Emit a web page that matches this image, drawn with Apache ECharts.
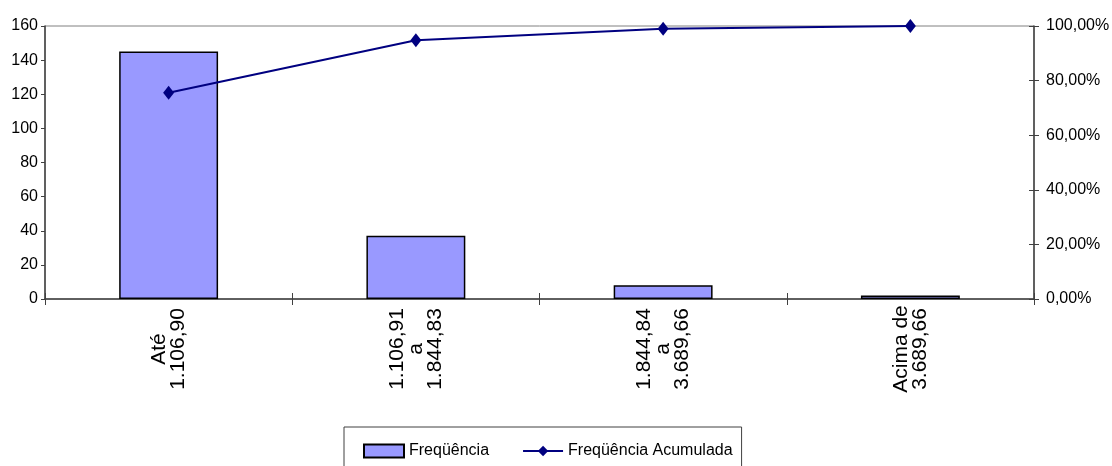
<!DOCTYPE html>
<html>
<head>
<meta charset="utf-8">
<script src="https://cdn.jsdelivr.net/npm/echarts@6/dist/echarts.min.js"></script>
<style>
html,body{margin:0;padding:0;background:#fff;}
#chart{width:1112px;height:466px;}
</style>
</head>
<body>
<div id="chart"></div>
<script>
const categories = ["Até\n1.106,90", "1.106,91\na\n1.844,83", "1.844,84\na\n3.689,66", "Acima de\n3.689,66"];
const frequencia = [145, 37, 8, 2];
const acumulada = [0.7552, 0.9479, 0.9896, 1.0];
const leftTicks = {min: 0, max: 160, interval: 20};
const rightTicks = {min: 0, max: 1, interval: 0.2};
const seriesNames = ["Freqüência", "Freqüência Acumulada"];

const FONT = "'Liberation Sans', Arial, sans-serif";
const chart = echarts.init(document.getElementById('chart'), null, {renderer: 'canvas'});
const pctFmt = v => (v * 100).toFixed(2).replace('.', ',') + '%';

chart.setOption({
  animation: false,
  backgroundColor: '#ffffff',
  textStyle: {fontFamily: FONT, color: '#000'},
  grid: {left: 45, right: 78, top: 26, bottom: 167, show: true, borderColor: '#808080', borderWidth: 1, containLabel: false, outerBoundsMode: 'none'},
  legend: {
    left: 344, top: 427,
    data: [{name: seriesNames[0], icon: 'rect'}, {name: seriesNames[1]}],
    itemWidth: 40, itemHeight: 13, itemGap: 33,
    padding: [16, 9, 22, 19],
    borderColor: '#404040', borderWidth: 1,
    textStyle: {fontFamily: FONT, fontSize: 16, color: '#000'}
  },
  xAxis: [{
    type: 'category', data: categories, position: 'bottom',
    axisLine: {lineStyle: {color: '#404040', width: 1.5}},
    axisTick: {show: true, alignWithLabel: false, length: 6, lineStyle: {color: '#404040'}},
    axisLabel: {rotate: 90, align: 'center', verticalAlign: 'middle', margin: 50, fontFamily: FONT, fontSize: 21, lineHeight: 19, color: '#000', interval: 0}
  }, {
    type: 'category', data: categories, position: 'bottom', gridIndex: 0,
    axisLine: {show: false},
    axisTick: {show: true, inside: true, length: 6, lineStyle: {color: '#404040'}},
    axisLabel: {show: false}, splitLine: {show: false}
  }],
  yAxis: [{
    type: 'value', position: 'left', min: leftTicks.min, max: leftTicks.max, interval: leftTicks.interval,
    axisLine: {show: true, lineStyle: {color: '#404040', width: 1.5}},
    axisTick: {show: true, length: 4, lineStyle: {color: '#404040'}},
    axisLabel: {margin: 7, fontFamily: FONT, fontSize: 16, color: '#000'},
    splitLine: {show: false}
  }, {
    type: 'value', position: 'right', min: rightTicks.min, max: rightTicks.max, interval: rightTicks.interval,
    axisLine: {show: true, lineStyle: {color: '#404040', width: 1.5}},
    axisTick: {show: true, length: 5, lineStyle: {color: '#404040'}},
    axisLabel: {margin: 12, fontFamily: FONT, fontSize: 16, color: '#000', formatter: pctFmt},
    splitLine: {show: false}
  }, {
    type: 'value', position: 'right', min: rightTicks.min, max: rightTicks.max, interval: rightTicks.interval,
    axisLine: {show: false},
    axisTick: {show: true, inside: true, length: 5, lineStyle: {color: '#404040'}},
    axisLabel: {show: false},
    splitLine: {show: false}
  }],
  series: [{
    name: seriesNames[0], type: 'bar', data: frequencia, xAxisIndex: 0, yAxisIndex: 0,
    barWidth: '40%',
    itemStyle: {color: '#9999FF', borderColor: '#000', borderWidth: 1.5}
  }, {
    name: seriesNames[1], type: 'line', data: acumulada, xAxisIndex: 0, yAxisIndex: 1,
    symbol: 'diamond', symbolSize: [11, 14],
    lineStyle: {color: '#000080', width: 2},
    itemStyle: {color: '#000080'}
  }]
});
</script>
</body>
</html>
